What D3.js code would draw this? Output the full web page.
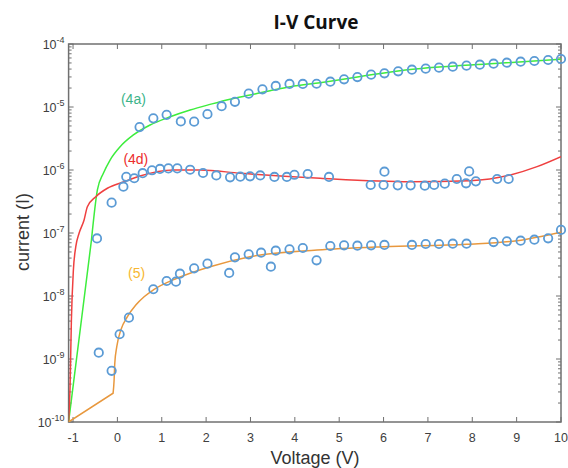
<!DOCTYPE html>
<html>
<head>
<meta charset="utf-8">
<script src="https://cdn.jsdelivr.net/npm/d3@7"></script>
<style>
body { margin: 0; background: #fff; }
svg { display: block; }
</style>
</head>
<body>
<div id="chart"></div>
<script>
// measured points [voltage, current]
let pts4a = [[-0.46, 8.2e-8], [0.50, 4.8e-6], [0.81, 6.6e-6], [1.11, 7.5e-6], [1.43, 5.9e-6], [1.73, 5.85e-6],
    [2.03, 7.7e-6], [2.35, 1.03e-5], [2.65, 1.21e-5], [2.96, 1.63e-5], [3.27, 1.91e-5], [3.57, 2.16e-5],
    [3.88, 2.32e-5], [4.18, 2.32e-5], [4.49, 2.34e-5], [4.80, 2.52e-5], [5.11, 2.75e-5], [5.41, 2.99e-5],
    [5.72, 3.26e-5], [6.02, 3.43e-5], [6.33, 3.69e-5], [6.64, 3.91e-5], [6.95, 4.06e-5], [7.25, 4.21e-5],
    [7.56, 4.36e-5], [7.87, 4.53e-5], [8.17, 4.69e-5], [8.48, 4.87e-5], [8.78, 5.05e-5], [9.09, 5.24e-5],
    [9.40, 5.37e-5], [9.71, 5.57e-5], [10.0, 5.78e-5]];

let pts4d = [[-0.13, 3.03e-7], [0.135, 5.43e-7], [0.20, 7.8e-7], [0.38, 7.4e-7], [0.57, 8.9e-7], [0.78, 9.9e-7],
    [0.96, 1.04e-6], [1.15, 1.06e-6], [1.35, 1.06e-6], [1.64, 1.01e-6], [1.93, 8.96e-7], [2.23, 8.2e-7],
    [2.54, 7.66e-7], [2.77, 7.83e-7], [2.99, 7.94e-7], [3.22, 8.2e-7], [3.54, 7.75e-7], [3.82, 7.75e-7],
    [3.99, 8.4e-7], [4.29, 8.64e-7], [4.77, 7.75e-7], [5.71, 5.78e-7], [6.00, 5.78e-7], [6.02, 9.4e-7],
    [6.32, 5.71e-7], [6.61, 5.71e-7], [6.93, 5.63e-7], [7.14, 5.78e-7], [7.38, 6.07e-7], [7.65, 7.2e-7],
    [7.86, 6.15e-7], [7.93, 9.5e-7], [8.08, 6.6e-7], [8.56, 7.2e-7], [8.82, 7.2e-7]];

let pts5 = [[-0.42, 1.26e-9], [-0.13, 6.5e-10], [0.05, 2.47e-9], [0.26, 4.53e-9], [0.81, 1.28e-8], [1.11, 1.73e-8],
    [1.32, 1.69e-8], [1.41, 2.26e-8], [1.73, 2.75e-8], [2.03, 3.26e-8], [2.52, 2.32e-8], [2.65, 4.11e-8],
    [2.96, 4.59e-8], [3.24, 4.87e-8], [3.46, 2.92e-8], [3.57, 5.24e-8], [3.88, 5.51e-8], [4.18, 5.78e-8],
    [4.49, 3.69e-8], [4.80, 6.22e-8], [5.11, 6.38e-8], [5.41, 6.29e-8], [5.72, 6.38e-8], [6.02, 6.46e-8],
    [6.64, 6.46e-8], [6.95, 6.69e-8], [7.25, 6.69e-8], [7.56, 6.76e-8], [7.87, 6.76e-8], [8.48, 7.19e-8],
    [8.78, 7.38e-8], [9.09, 7.55e-8], [9.40, 7.83e-8], [9.71, 8.24e-8], [10.0, 1.12e-7]];

// fitted curves [voltage, current]; first segment of 4a and 5 is a straight line
let fit4a = [[-1.1, 1e-10], [-0.585, 7.7e-8], [-0.451, 4.82e-7], [-0.316, 8.87e-7], [-0.165, 1.44e-6],
    [0.061, 2.34e-6], [0.361, 3.6e-6], [0.737, 5.18e-6], [1.189, 7.0e-6], [1.64, 8.96e-6],
    [2.09, 1.1e-5], [2.54, 1.33e-5], [2.99, 1.55e-5], [3.44, 1.81e-5], [3.90, 2.1e-5],
    [4.57, 2.43e-5], [6.60, 3.94e-5], [8.50, 4.9e-5], [10.0, 5.71e-5]];

let fit4d = [[-1.1, 1e-10], [-1.067, 3.6e-10], [-1.037, 4.16e-9], [-0.992, 2.59e-8], [-0.938, 6.07e-8],
    [-0.864, 9.9e-8], [-0.751, 1.61e-7], [-0.677, 2.61e-7], [-0.487, 3.77e-7], [-0.226, 5.13e-7],
    [0.151, 6.52e-7], [0.51, 8.04e-7], [1.26, 1.0e-6], [1.87, 1.0e-6], [2.77, 8.87e-7],
    [4.57, 7.38e-7], [6.60, 6.52e-7], [7.95, 6.76e-7], [8.86, 8.34e-7], [9.46, 1.13e-6], [10.0, 1.63e-6]];

let fit5 = [[-1.1, 1e-10], [-0.097, 2.86e-10], [-0.074, 4.65e-10], [-0.059, 8.55e-10], [-0.014, 1.57e-9],
    [0.077, 2.88e-9], [0.226, 4.69e-9], [0.415, 7.19e-9], [0.602, 9.75e-9], [0.81, 1.25e-8],
    [1.34, 1.91e-8], [2.09, 2.92e-8], [2.99, 4.2e-8], [4.5, 5.37e-8], [6.0, 6.07e-8],
    [7.88, 6.62e-8], [9.01, 7.55e-8], [10.0, 1.03e-7]];

let xTicks = [-1, 0, 1, 2, 3, 4, 5, 6, 7, 8, 9, 10];
let yExp = [-10, -9, -8, -7, -6, -5, -4];

let seriesLabels = [
    {text: "(4a)", v: 0.08, i: 1.12e-5, color: "#3cb48a"},
    {text: "(4d)", v: 0.135, i: 1.24e-6, color: "#ec2d2d"},
    {text: "(5)", v: 0.24, i: 1.95e-8, color: "#f7b731"}
];

let width = 568, height = 468;
let margin = {top: 44, right: 7, bottom: 46, left: 68.6};

let svg = d3.select("#chart").append("svg")
    .attr("width", width)
    .attr("height", height)
    .style("font-family", "'Liberation Sans', Arial, sans-serif");

let x = d3.scaleLinear().domain([-1.1, 10]).range([margin.left, width - margin.right]);
let y = d3.scaleLog().domain([1e-10, 1e-4]).range([height - margin.bottom, margin.top]);

svg.append("defs").append("clipPath").attr("id", "clip")
    .append("rect")
    .attr("x", margin.left).attr("y", margin.top)
    .attr("width", x.range()[1] - margin.left)
    .attr("height", y.range()[0] - margin.top);

let axisColor = "#707070";

// ticks, inward
let yAll = y.ticks();
let g = svg.append("g").attr("stroke", axisColor).attr("stroke-width", 1);
yAll.forEach(function (t) {
    let major = Math.abs(Math.log10(t) - Math.round(Math.log10(t))) < 1e-6;
    let len = major ? 5 : 3;
    g.append("line").attr("x1", x.range()[0]).attr("x2", x.range()[0] + len)
        .attr("y1", y(t)).attr("y2", y(t));
    g.append("line").attr("x1", x.range()[1]).attr("x2", x.range()[1] - len)
        .attr("y1", y(t)).attr("y2", y(t));
});
xTicks.forEach(function (t) {
    g.append("line").attr("x1", x(t)).attr("x2", x(t))
        .attr("y1", y.range()[0]).attr("y2", y.range()[0] - 5);
    g.append("line").attr("x1", x(t)).attr("x2", x(t))
        .attr("y1", y.range()[1]).attr("y2", y.range()[1] + 5);
});

// box
svg.append("rect")
    .attr("x", margin.left).attr("y", margin.top)
    .attr("width", x.range()[1] - margin.left)
    .attr("height", y.range()[0] - margin.top)
    .attr("fill", "none")
    .attr("stroke", axisColor)
    .attr("stroke-width", 1.5);

// tick labels
svg.append("g").selectAll("text")
    .data(xTicks)
    .enter().append("text")
    .attr("x", function (d) { return x(d); })
    .attr("y", y.range()[0] + 20)
    .attr("text-anchor", "middle")
    .attr("font-size", 12.5)
    .attr("fill", "#404040")
    .text(function (d) { return d; });

let yl = svg.append("g").selectAll("text")
    .data(yExp)
    .enter().append("text")
    .attr("x", margin.left - 4)
    .attr("y", function (d) { return y(Math.pow(10, d)) + 5; })
    .attr("text-anchor", "end")
    .attr("fill", "#404040");
yl.append("tspan").attr("font-size", 12.5).text("10");
yl.append("tspan").attr("font-size", 9).attr("dy", -6).text(function (d) { return d; });

// fit lines
let smooth = d3.line()
    .x(function (d) { return x(d[0]); })
    .y(function (d) { return y(d[1]); })
    .curve(d3.curveMonotoneX);
let straight = d3.line()
    .x(function (d) { return x(d[0]); })
    .y(function (d) { return y(d[1]); });

let plot = svg.append("g").attr("clip-path", "url(#clip)")
    .attr("fill", "none")
    .attr("stroke-width", 1.5);

// [data, colour, straight head?]
[[fit4a, "#3ded3d", true], [fit4d, "#ef4040", false], [fit5, "#e8983e", true]].forEach(function (s) {
    let d = s[2] ? straight(s[0].slice(0, 2)) + smooth(s[0].slice(1)).replace(/^M/, "L") : smooth(s[0]);
    plot.append("path")
        .attr("d", d)
        .attr("stroke", s[1]);
});

// measured markers
svg.append("g")
    .selectAll("circle")
    .data(pts4a.concat(pts4d, pts5))
    .enter().append("circle")
    .attr("cx", function (d) { return x(d[0]); })
    .attr("cy", function (d) { return y(d[1]); })
    .attr("r", 4.2)
    .attr("fill", "none")
    .attr("stroke", "#5b9bd5")
    .attr("stroke-width", 1.8);

// series labels
svg.append("g").selectAll("text")
    .data(seriesLabels)
    .enter().append("text")
    .attr("x", function (d) { return x(d.v); })
    .attr("y", function (d) { return y(d.i); })
    .attr("font-size", 14)
    .attr("fill", function (d) { return d.color; })
    .text(function (d) { return d.text; });

// titles
svg.append("text")
    .attr("x", 316).attr("y", 29)
    .attr("text-anchor", "middle")
    .attr("font-family", "'Open Sans', sans-serif")
    .attr("font-weight", "bold")
    .attr("font-size", 19)
    .attr("fill", "#111")
    .text("I-V Curve");

svg.append("text")
    .attr("x", 315).attr("y", 464)
    .attr("text-anchor", "middle")
    .attr("font-size", 18)
    .attr("fill", "#333")
    .text("Voltage (V)");

svg.append("text")
    .attr("transform", "translate(29,232) rotate(-90)")
    .attr("text-anchor", "middle")
    .attr("font-size", 18)
    .attr("fill", "#333")
    .text("current (I)");
</script>
</body>
</html>
